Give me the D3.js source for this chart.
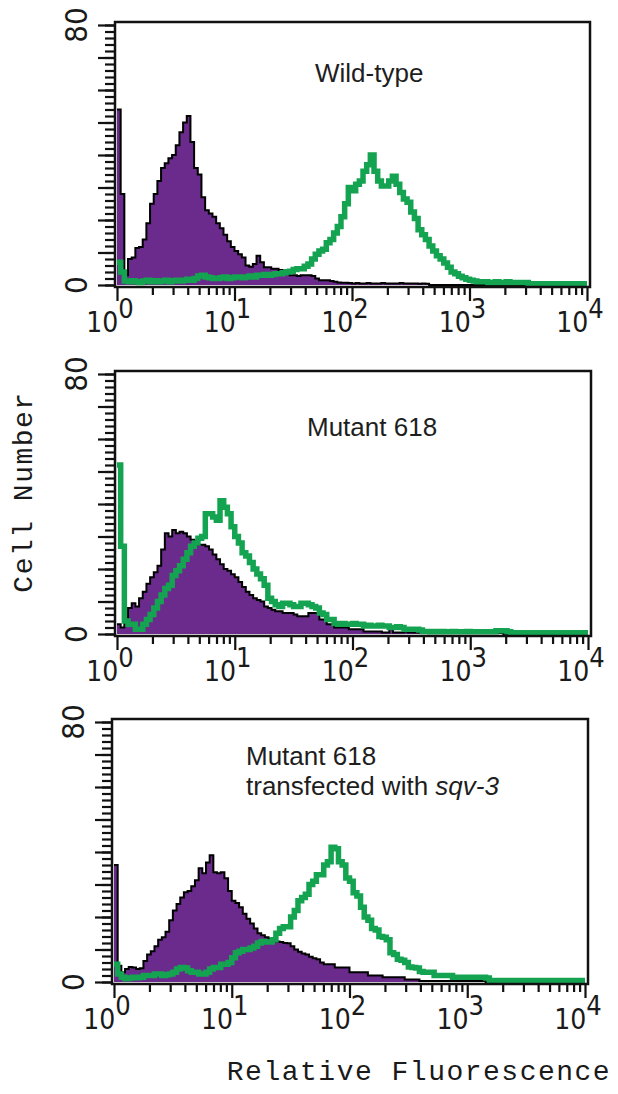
<!DOCTYPE html>
<html>
<head>
<meta charset="utf-8">
<script src="https://cdn.jsdelivr.net/npm/d3@7"></script>
<style>
  body { margin: 0; background: #fff; }
  svg { display: block; }
  .title { font-family: "Liberation Sans", Arial, Helvetica, sans-serif; font-size: 26px; fill: #1e1e1e; }
  .tick-lab { font-family: "Liberation Sans Narrow", "Arial Narrow", "DejaVu Sans Condensed", sans-serif; font-stretch: condensed; fill: #1a1a1a; }
  .axis-title { font-family: "Liberation Mono", "Courier New", monospace; font-size: 28px; fill: #1a1a1a; letter-spacing: 1.5px; }
</style>
</head>
<body>
<div id="chart"></div>
<script>
// 128 log channels over 10^0 .. 10^4, counts on the 0-80 scale
var wtCtrl = [
  54, 28, 3, 8, 8.5, 11.4, 11.7, 14, 19, 25, 28, 32, 36, 37.5, 39, 40,
  43, 47, 50, 52, 44, 36, 34, 27, 23, 22, 21, 19, 17.5, 15.5, 13.5, 11.7,
  10.5, 9.5, 8.5, 6, 5.6, 6.5, 9, 7, 5.5, 5.5, 5, 5, 4.6, 4.5, 3.5, 3,
  3, 2.8, 3, 3, 3, 2.8, 2, 1.5, 1.5, 1.5, 1.2, 1, 0.8, 0.7, 0.7, 0.6,
  0.5, 0.6, 0.5, 0.5, 0.6, 0.5, 0.5, 0.5, 0.6, 0.5, 0.5, 0.5, 0.5, 0.6, 0.5, 0.5,
  0.5, 0.5, 0.4, 0.5, 0.4, 0, 0, 0, 0, 0, 0, 0, 0, 0, 0, 0,
  0, 0, 0, 0, 0, 0, 0, 0, 0, 0, 0, 0, 0, 0, 0, 0,
  0, 0, 0, 0, 0, 0, 0, 0, 0, 0, 0, 0, 0, 0, 0, 0
];
var wtStain = [
  7, 4, 1.2, 1, 1.3, 1, 0.8, 1.2, 1.5, 1, 1.3, 1, 1.2, 1.5, 1, 1.3,
  1.5, 1.2, 1.5, 1.8, 1.5, 2, 2.8, 3, 2.5, 2.2, 2, 2, 2.2, 2.5, 2, 2.2,
  2.5, 2.5, 2.2, 2.5, 2.8, 2.5, 3, 3, 3.2, 3, 3.2, 3.5, 3.5, 3.8, 4, 4.2,
  4.8, 5, 5, 5.8, 6.5, 8, 9.5, 10.5, 11, 13, 14, 16, 18, 21, 25, 30,
  29, 31, 32, 35, 37, 40, 35, 32, 30.5, 30.5, 32, 33.5, 31, 28.5, 26.5, 25.5,
  22.5, 20.5, 17, 15.5, 14, 12, 10.5, 9, 8, 6.8, 5.5, 4, 3.5, 2.7, 2.2, 1.8,
  1.5, 1.2, 1, 1, 1, 0.8, 0.8, 1, 0.8, 0.8, 1, 0.8, 0.8, 0.8, 0.8, 0.8,
  0.4, 0.4, 0.4, 0.4, 0.4, 0.4, 0.4, 0.4, 0.4, 0.4, 0.4, 0.4, 0.4, 0.4, 0.4, 0.4
];
var mutCtrl = [
  3, 2, 5, 8, 9.5, 8.5, 11, 13, 15.5, 17.5, 19, 21, 26, 31, 30, 32,
  31, 31.5, 31, 30, 29, 28.5, 27.5, 27.5, 27, 26, 24.5, 23, 21.5, 20, 19.5, 18.4,
  17.5, 16, 14.5, 13, 12, 11, 10.5, 10, 8.5, 8, 7.5, 7, 7, 6.5, 6.5, 6.5,
  6, 5.5, 5.5, 5.5, 6.5, 6.5, 6.5, 4.5, 4.5, 3, 3, 2, 2, 2, 2, 1.5,
  1.5, 1.5, 1.5, 0.8, 0.8, 0.8, 0.8, 0.8, 0.5, 0.5, 1.5, 0.5, 0.5, 0.5, 0.8, 0.5,
  0.5, 0.5, 0.5, 0.8, 0.5, 0.5, 0.5, 0.5, 0.8, 0.5, 0.5, 0.5, 0.8, 0.5, 0.5, 0.5,
  0.5, 0.5, 0.5, 0.5, 0.4, 0.4, 0.4, 0.4, 0.3, 0, 0, 0, 0, 0, 0, 0,
  0, 0, 0, 0, 0, 0, 0, 0, 0, 0, 0, 0, 0, 0, 0, 0
];
var mutStain = [
  52, 27, 4, 3, 3, 1.5, 1.5, 3, 4.5, 6, 8, 10, 12, 14, 15, 18,
  19.5, 21, 23, 25, 27, 28, 29.5, 30, 37, 37, 36, 35, 41, 39, 37, 33,
  30, 28, 25, 24, 22, 20, 18.5, 17, 15, 11, 10, 9, 8.5, 9.5, 9.5, 9,
  8.5, 8.5, 9.5, 9.5, 9, 8.5, 8, 6.5, 6, 4.5, 4.5, 3.2, 3, 3.2, 3, 3,
  3.2, 3, 3, 2.5, 2.7, 2.5, 2.5, 2.7, 2.5, 2.5, 2, 2, 2.2, 2, 1.5, 1.5,
  1.5, 1.5, 1.2, 0.8, 0.8, 0.7, 0.8, 0.7, 0.8, 0.7, 0.7, 0.8, 0.7, 0.7, 0.7, 0.8,
  0.7, 0.7, 0.7, 0.7, 0.7, 0.7, 0.7, 1, 1, 1, 0.7, 0.4, 0.4, 0.4, 0.4, 0.4,
  0.4, 0.4, 0.4, 0.4, 0.4, 0.4, 0.4, 0.4, 0.4, 0.4, 0.4, 0.4, 0.4, 0.4, 0.4, 0.4
];
var resCtrl = [
  36, 5, 3, 4, 4.6, 4.5, 4, 4.2, 6.5, 8.5, 9.5, 11, 13, 13.8, 15.5, 19,
  22, 24, 26, 27.6, 28, 29.5, 31.3, 35, 33.5, 36.8, 39, 33.8, 33.5, 33.8, 31.9, 28,
  25, 24.3, 23, 21, 19.5, 18, 16.5, 15, 14.4, 13.8, 13.4, 13.4, 12.5, 12.3, 12, 11.9,
  11, 10, 9.3, 8.8, 8.5, 7.8, 7.3, 7, 6, 5.5, 5.5, 5.5, 4.5, 4.5, 4.5, 4.5,
  3, 3, 3, 3, 3, 2, 2, 2, 2, 1.5, 1.5, 1.5, 1.5, 1.5, 1.5, 0.8,
  0.8, 0.8, 0.8, 0.3, 0.3, 0.3, 0.3, 0.3, 0.3, 0.3, 0.3, 0.3, 0.3, 0.3, 0.3, 0.3,
  0.3, 0.3, 0.3, 0.3, 0.3, 0, 0, 0, 0, 0, 0, 0, 0, 0, 0, 0,
  0, 0, 0, 0, 0, 0, 0, 0, 0, 0, 0, 0, 0, 0, 0, 0
];
var resStain = [
  5.5, 2.5, 1.5, 1, 1.2, 1.5, 1.3, 1.5, 2, 2, 2, 2.5, 2.5, 2, 2.2, 2.5,
  3, 4, 4.5, 4.3, 3.5, 3, 3, 2.5, 2.5, 3, 4, 4.5, 4.5, 5.5, 5.5, 6,
  7.5, 9, 9.5, 10, 10, 10.5, 11, 12, 12.5, 12.3, 12.3, 13, 15, 16.5, 17, 17,
  20, 22, 25, 26, 27, 30, 31, 33, 33, 36, 37, 41.5, 41, 37, 36, 32,
  31, 27.5, 26.5, 23, 20, 19, 16.5, 16, 14, 13.8, 13, 9, 8.5, 7, 6.7, 6,
  4.6, 4.5, 4.3, 3.2, 3, 3, 3, 2, 2, 2, 2, 2, 1.5, 1.5, 1.5, 1.5,
  1.5, 1.5, 1.5, 1.5, 1.5, 1.2, 0.5, 0.5, 0.5, 0.5, 0.5, 0.5, 0.5, 0.5, 0.5, 0.5,
  0.5, 0.5, 0.5, 0.5, 0.5, 0.5, 0.5, 0.5, 0.5, 0.5, 0.5, 0.5, 0.5, 0.5, 0.5, 0.5
];

var xExponents = [0, 1, 2, 3, 4];
var yLabels = [0, 80];
var titles = [["Wild-type"], ["Mutant 618"], ["Mutant 618", "transfected with "]];

var purple = "#6a2b8c", green = "#14a350";
var width = 618, height = 1094;
var nBins = 128;

// layout of each panel: x range for 10^0..10^4, y pixel of 0 and of 80
var panels = [
  {ctrl: wtCtrl,  stain: wtStain,  x0: 117, x1: 587, yZero: 285, yTop: 25,  title: titles[0], tx: 315, ty: 82},
  {ctrl: mutCtrl, stain: mutStain, x0: 117, x1: 588, yZero: 634, yTop: 374, title: titles[1], tx: 307, ty: 436},
  {ctrl: resCtrl, stain: resStain, x0: 114, x1: 585, yZero: 982, yTop: 722, title: titles[2], tx: 246, ty: 765}
];

var svg = d3.select("#chart").append("svg")
    .attr("width", width)
    .attr("height", height);

svg.append("rect").attr("width", width).attr("height", height).attr("fill", "#fff");

var edges = d3.range(nBins + 1).map(function(i){ return Math.pow(10, 4 * i / nBins); });

var minorTicks = [];
xExponents.slice(0, 4).forEach(function(e){
  for (var m = 2; m <= 9; m++) minorTicks.push(m * Math.pow(10, e));
});
var majorTicks = xExponents.map(function(e){ return Math.pow(10, e); });

panels.forEach(function(p, pi){
  var x = d3.scaleLog().domain([1, 10000]).range([p.x0, p.x1]);
  var y = d3.scaleLinear().domain([0, 80]).range([p.yZero, p.yTop]);

  var left = p.x0 - 2, right = p.x1 + 3, top = p.yTop - 3, bottom = p.yZero + 2;
  var g = svg.append("g").attr("class", "panel" + pi);

  g.append("clipPath").attr("id", "clip" + pi)
    .append("rect")
    .attr("x", left).attr("y", top)
    .attr("width", right - left).attr("height", bottom - top);

  var plot = g.append("g").attr("clip-path", "url(#clip" + pi + ")");

  var area = d3.area()
      .curve(d3.curveStepAfter)
      .x(function(d, i){ return x(edges[i]); })
      .y0(y(0))
      .y1(function(d){ return y(d); });

  var line = d3.line()
      .curve(d3.curveStepAfter)
      .x(function(d, i){ return x(edges[i]); })
      .y(function(d){ return y(d); });

  var ctrl = p.ctrl.concat([p.ctrl[nBins - 1]]);
  var stain = p.stain.concat([p.stain[nBins - 1]]);

  plot.append("path")
      .attr("d", area(ctrl))
      .attr("fill", purple);
  plot.append("path")
      .attr("d", line(ctrl))
      .attr("fill", "none")
      .attr("stroke", "#000")
      .attr("stroke-width", 2);
  plot.append("path")
      .attr("d", line(stain))
      .attr("fill", "none")
      .attr("stroke", green)
      .attr("stroke-width", 5.5)
      .attr("stroke-linejoin", "miter");

  // frame
  g.append("rect")
      .attr("x", left).attr("y", top)
      .attr("width", right - left).attr("height", bottom - top)
      .attr("fill", "none")
      .attr("stroke", "#111")
      .attr("stroke-width", 2.5);

  // y ticks
  var yMinor = d3.axisLeft(y).tickValues(d3.range(0, 81, 2)).tickSize(10).tickFormat("");
  var yMajor = d3.axisLeft(y).tickValues(d3.range(0, 81, 10)).tickSize(17).tickFormat("");
  [yMinor, yMajor].forEach(function(ax){
    var a = g.append("g").attr("transform", "translate(" + left + ",0)").call(ax);
    a.select(".domain").remove();
    a.selectAll("line").attr("stroke", "#111").attr("stroke-width", 2.2);
  });

  g.selectAll(".ylab")
    .data(yLabels)
    .enter().append("text")
      .attr("class", "tick-lab")
      .attr("transform", function(d){ return "translate(" + (left - 28) + "," + y(d) + ") rotate(-90)"; })
      .attr("text-anchor", "middle")
      .style("font-size", "31px")
      .text(function(d){ return d; });

  // x ticks
  var xMinor = d3.axisBottom(x).tickValues(minorTicks).tickSize(8).tickFormat("");
  var xMajor = d3.axisBottom(x).tickValues(majorTicks).tickSize(14).tickFormat("");
  [xMinor, xMajor].forEach(function(ax){
    var a = g.append("g").attr("transform", "translate(0," + bottom + ")").call(ax);
    a.select(".domain").remove();
    a.selectAll("line").attr("stroke", "#111").attr("stroke-width", 2.2);
  });

  var xl = g.selectAll(".xlab")
    .data(xExponents)
    .enter().append("text")
      .attr("class", "tick-lab")
      .attr("x", function(d){ return x(Math.pow(10, d)) - 7; })
      .attr("y", bottom + 45)
      .attr("text-anchor", "middle")
      .style("font-size", "28px");
  xl.append("tspan").text("10");
  xl.append("tspan")
      .attr("dy", -14)
      .style("font-size", "27px")
      .text(function(d){ return d; });

  // panel title
  p.title.forEach(function(t, ti){
    var tt = g.append("text")
        .attr("class", "title")
        .attr("x", p.tx)
        .attr("y", p.ty + ti * 30)
        .text(t);
    if (ti === 1) tt.append("tspan").style("font-style", "italic").text("sqv-3");
  });
});

svg.append("text")
    .attr("class", "axis-title")
    .attr("transform", "translate(32,492) rotate(-90)")
    .attr("text-anchor", "middle")
    .text("Cell Number");

svg.append("text")
    .attr("class", "axis-title")
    .attr("x", 419)
    .attr("y", 1080)
    .attr("text-anchor", "middle")
    .text("Relative Fluorescence");
</script>
</body>
</html>
